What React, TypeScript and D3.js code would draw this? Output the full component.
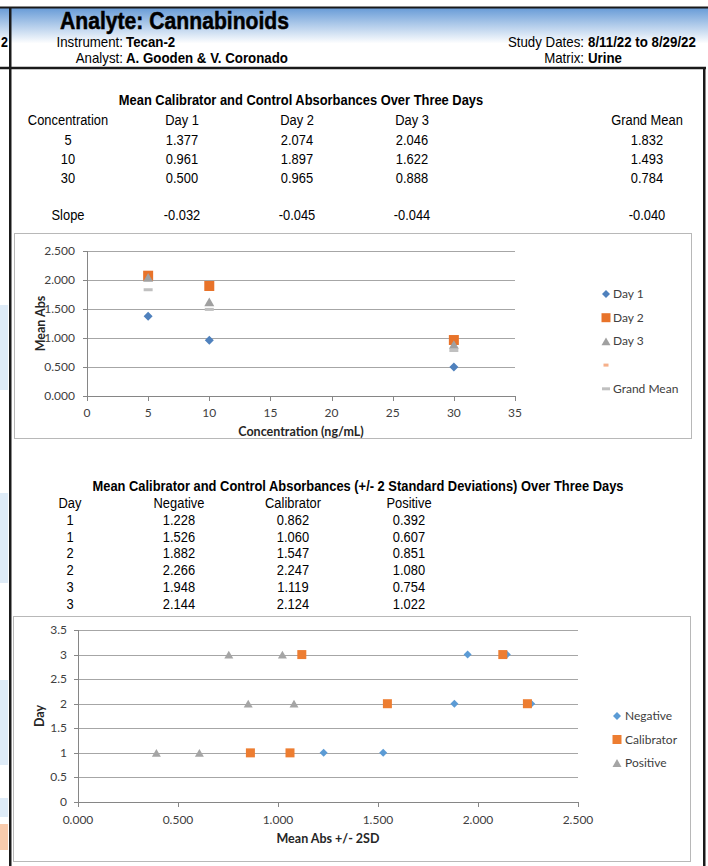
import React from "react";
import * as d3 from "d3";

// table 1 / chart 1
const concentrations = [5, 10, 30];
const day1 = [1.377, 0.961, 0.5];
const day2 = [2.074, 1.897, 0.965];
const day3 = [2.046, 1.622, 0.888];
const grandMean = [1.832, 1.493, 0.784];
const slopes = [-0.032, -0.045, -0.044, -0.04];
const absTicks = [0, 0.5, 1, 1.5, 2, 2.5];
const concTicks = [0, 5, 10, 15, 20, 25, 30, 35];

// table 2 / chart 2
const sdDays = [1, 1, 2, 2, 3, 3];
const negative = [1.228, 1.526, 1.882, 2.266, 1.948, 2.144];
const calibrator = [0.862, 1.06, 1.547, 2.247, 1.119, 2.124];
const positive = [0.392, 0.607, 0.851, 1.08, 0.754, 1.022];
const dayTicks = [0, 0.5, 1, 1.5, 2, 2.5, 3, 3.5];
const sdTicks = [0, 0.5, 1, 1.5, 2, 2.5];

const TF = "'Liberation Sans', Arial, sans-serif";
const CF = "Lato, 'Noto Sans', sans-serif";
const SX = 0.89; // squeeze to look like a narrow face

// narrow-looking table text
const T = ({ x, y, children, bold, anchor = "middle", size = 14.5, sx = SX }: any) => (
  <text
    transform={`translate(${x},${y}) scale(${sx},1)`}
    textAnchor={anchor}
    fontFamily={TF}
    fontSize={size}
    fontWeight={bold ? "bold" : "normal"}
  >
    {children}
  </text>
);

const Marker = ({ kind, x, y, size, color }: any) => {
  if (kind === "diamond")
    return (
      <path
        d={d3.symbol(d3.symbolSquare, (size * size) / 2)() as string}
        transform={`translate(${x},${y}) rotate(45)`}
        fill={color}
      />
    );
  if (kind === "square")
    return (
      <path d={d3.symbol(d3.symbolSquare, size * size)() as string} transform={`translate(${x},${y})`} fill={color} />
    );
  if (kind === "triangle") {
    const area = (Math.sqrt(3) / 4) * size * size;
    const shift = size / (2 * Math.sqrt(3)) / 2;
    return (
      <path
        d={d3.symbol(d3.symbolTriangle, area)() as string}
        transform={`translate(${x},${y + shift})`}
        fill={color}
      />
    );
  }
  // dash
  return <rect x={x - size / 2} y={y - 1.5} width={size} height={3} fill={color} />;
};

const f3 = (v: number) => v.toFixed(3);

export default function App() {
  // chart 1 scales
  const x1 = d3.scaleLinear().domain([0, 35]).range([87, 515]);
  const y1 = d3.scaleLinear().domain([0, 2.5]).range([396, 251]);
  // chart 2 scales
  const x2 = d3.scaleLinear().domain([0, 2.5]).range([78, 578]);
  const y2 = d3.scaleLinear().domain([0, 3.5]).range([802, 630]);

  const series1 = [
    { name: "Day 1", vals: day1, kind: "diamond", color: "#4f81bd", size: 9 },
    { name: "Day 2", vals: day2, kind: "square", color: "#e8732a", size: 10 },
    { name: "Day 3", vals: day3, kind: "triangle", color: "#a0a0a0", size: 10 },
    { name: "Grand Mean", vals: grandMean, kind: "dash", color: "#c0c0c0", size: 9 },
  ];
  const legend1 = [
    { name: "Day 1", kind: "diamond", color: "#4f81bd", size: 8 },
    { name: "Day 2", kind: "square", color: "#e8732a", size: 9 },
    { name: "Day 3", kind: "triangle", color: "#a0a0a0", size: 9 },
    { name: "", kind: "dash", color: "#f6b08a", size: 5 },
    { name: "Grand Mean", kind: "dash", color: "#c0c0c0", size: 8 },
  ];
  const series2 = [
    { name: "Negative", vals: negative, kind: "diamond", color: "#5b9bd5", size: 8 },
    { name: "Calibrator", vals: calibrator, kind: "square", color: "#ed7d31", size: 9 },
    { name: "Positive", vals: positive, kind: "triangle", color: "#a5a5a5", size: 9 },
  ];

  const t1Cols = [182, 297, 412, 647];
  const t1Rows = [145, 164, 183];
  const t2Cols = [70, 179, 293, 409];
  const t2Rows = [525, 542, 558, 575, 592, 609];
  const tick = { fontFamily: CF, fontSize: 12, fill: "#404040" };
  const axTitle = { fontFamily: CF, fontSize: 12.5, fontWeight: "bold", fill: "#262626", textAnchor: "middle" } as any;

  return (
    <svg
      width={708}
      height={866}
      style={{ position: "absolute", left: 0, top: 0, background: "#fff" }}
    >
      <defs>
        <linearGradient id="hdr" x1="0" y1="0" x2="0" y2="1">
          <stop offset="0" stopColor="#6499d6" />
          <stop offset="0.6" stopColor="#ffffff" />
        </linearGradient>
      </defs>

      {/* page frame & header */}
      <rect x={0} y={7} width={708} height={61} fill="url(#hdr)" />
      <line x1={0} x2={708} y1={7.5} y2={7.5} stroke="#1a1a1a" strokeWidth={2} />
      <line x1={0} x2={706} y1={68} y2={68} stroke="#1a1a1a" strokeWidth={2.5} />
      <rect x={9} y={7} width={2.5} height={859} fill="#1a1a1a" />
      <rect x={703} y={68} width={2.5} height={798} fill="#1a1a1a" />
      <T x={8} y={47} bold anchor="end" size={14}>2</T>

      {/* left edge cells */}
      {[[305, 390], [493, 583], [680, 765], [798, 817]].map(([a, b], i) => (
        <rect key={i} x={0} y={a} width={8} height={b - a} fill="#deebf7" />
      ))}
      <rect x={0} y={824} width={8} height={26} fill="#f8cbad" />

      <text
        transform="translate(60,29) scale(0.92,1)"
        fontFamily={TF}
        fontWeight="bold"
        fontSize={23}
        stroke="#000"
        strokeWidth={0.5}
      >
        Analyte: Cannabinoids
      </text>
      <T x={123} y={47} anchor="end" size={14} sx={0.95}>Instrument:</T>
      <T x={126} y={47} anchor="start" bold size={14} sx={0.95}>Tecan-2</T>
      <T x={123} y={63} anchor="end" size={14} sx={0.95}>Analyst:</T>
      <T x={126} y={63} anchor="start" bold size={14} sx={0.95}>A. Gooden &amp; V. Coronado</T>
      <T x={584} y={47} anchor="end" size={14} sx={0.95}>Study Dates:</T>
      <T x={588} y={47} anchor="start" bold size={14} sx={0.95}>8/11/22 to 8/29/22</T>
      <T x={584} y={63} anchor="end" size={14} sx={0.95}>Matrix:</T>
      <T x={588} y={63} anchor="start" bold size={14} sx={0.95}>Urine</T>

      {/* table 1 */}
      <T x={301} y={105} bold>Mean Calibrator and Control Absorbances Over Three Days</T>
      <T x={68} y={125}>Concentration</T>
      {["Day 1", "Day 2", "Day 3", "Grand Mean"].map((h, i) => (
        <T key={h} x={t1Cols[i]} y={125}>{h}</T>
      ))}
      {concentrations.map((c, r) => (
        <g key={c}>
          <T x={68} y={t1Rows[r]}>{c}</T>
          {[day1, day2, day3, grandMean].map((s, i) => (
            <T key={i} x={t1Cols[i]} y={t1Rows[r]}>{f3(s[r])}</T>
          ))}
        </g>
      ))}
      <T x={68} y={220}>Slope</T>
      {slopes.map((s, i) => (
        <T key={i} x={t1Cols[i]} y={220}>{f3(s)}</T>
      ))}

      {/* chart 1 */}
      <rect x={14.5} y={233.5} width={677} height={205} fill="#fff" stroke="#b8b8b8" />
      {absTicks.slice(1).map((t) => (
        <line key={t} x1={87} x2={515} y1={Math.round(y1(t)) + 0.5} y2={Math.round(y1(t)) + 0.5} stroke="#a6a6a6" />
      ))}
      <line x1={87.5} x2={87.5} y1={251} y2={396} stroke="#868686" />
      <line x1={87} x2={515} y1={396.5} y2={396.5} stroke="#868686" />
      {absTicks.map((t) => (
        <g key={t}>
          <line x1={83} x2={87} y1={Math.round(y1(t)) + 0.5} y2={Math.round(y1(t)) + 0.5} stroke="#868686" />
          <text x={75} y={y1(t) + 4} textAnchor="end" {...tick}>{f3(t)}</text>
        </g>
      ))}
      {concTicks.map((t) => (
        <g key={t}>
          <line x1={Math.round(x1(t)) + 0.5} x2={Math.round(x1(t)) + 0.5} y1={396} y2={401} stroke="#868686" />
          <text x={x1(t)} y={417} textAnchor="middle" {...tick}>{t}</text>
        </g>
      ))}
      <text x={301} y={436} {...axTitle}>Concentration (ng/mL)</text>
      <text transform={`translate(45,${(251 + 396) / 2}) rotate(-90)`} {...axTitle}>Mean Abs</text>
      {series1.map((s) =>
        s.vals.map((v, i) => (
          <Marker key={s.name + i} kind={s.kind} x={x1(concentrations[i])} y={y1(v)} size={s.size} color={s.color} />
        ))
      )}
      {legend1.map((l, i) => {
        const ly = 294 + i * 23.7;
        return (
          <g key={i}>
            <Marker kind={l.kind} x={606} y={ly} size={l.size} color={l.color} />
            <text x={613} y={ly + 4} {...tick}>{l.name}</text>
          </g>
        );
      })}

      {/* table 2 */}
      <T x={358} y={491} bold>
        Mean Calibrator and Control Absorbances (+/- 2 Standard Deviations) Over Three Days
      </T>
      {["Day", "Negative", "Calibrator", "Positive"].map((h, i) => (
        <T key={h} x={t2Cols[i]} y={508}>{h}</T>
      ))}
      {sdDays.map((d, r) => (
        <g key={r}>
          <T x={t2Cols[0]} y={t2Rows[r]}>{d}</T>
          {[negative, calibrator, positive].map((s, i) => (
            <T key={i} x={t2Cols[i + 1]} y={t2Rows[r]}>{f3(s[r])}</T>
          ))}
        </g>
      ))}

      {/* chart 2 */}
      <rect x={13.5} y={616.5} width={677} height={245} fill="#fff" stroke="#b8b8b8" />
      {dayTicks.slice(1).map((t) => (
        <line key={t} x1={78} x2={578} y1={Math.round(y2(t)) + 0.5} y2={Math.round(y2(t)) + 0.5} stroke="#a6a6a6" />
      ))}
      <line x1={78.5} x2={78.5} y1={630} y2={802} stroke="#868686" />
      <line x1={78} x2={578} y1={802.5} y2={802.5} stroke="#868686" />
      {dayTicks.map((t) => (
        <g key={t}>
          <line x1={74} x2={78} y1={Math.round(y2(t)) + 0.5} y2={Math.round(y2(t)) + 0.5} stroke="#868686" />
          <text x={67} y={y2(t) + 4} textAnchor="end" {...tick}>{t}</text>
        </g>
      ))}
      {sdTicks.map((t) => (
        <g key={t}>
          <line x1={Math.round(x2(t)) + 0.5} x2={Math.round(x2(t)) + 0.5} y1={802} y2={807} stroke="#868686" />
          <text x={x2(t)} y={824} textAnchor="middle" {...tick}>{f3(t)}</text>
        </g>
      ))}
      <text x={328} y={843} {...axTitle}>Mean Abs +/- 2SD</text>
      <text transform={`translate(44,${(630 + 802) / 2}) rotate(-90)`} {...axTitle}>Day</text>
      {series2.map((s) =>
        s.vals.map((v, i) => (
          <Marker key={s.name + i} kind={s.kind} x={x2(v)} y={y2(sdDays[i])} size={s.size} color={s.color} />
        ))
      )}
      {series2.map((l, i) => {
        const ly = 716 + i * 23.5;
        return (
          <g key={l.name}>
            <Marker kind={l.kind} x={617} y={ly} size={l.size} color={l.color} />
            <text x={625} y={ly + 4} {...tick}>{l.name}</text>
          </g>
        );
      })}
    </svg>
  );
}
